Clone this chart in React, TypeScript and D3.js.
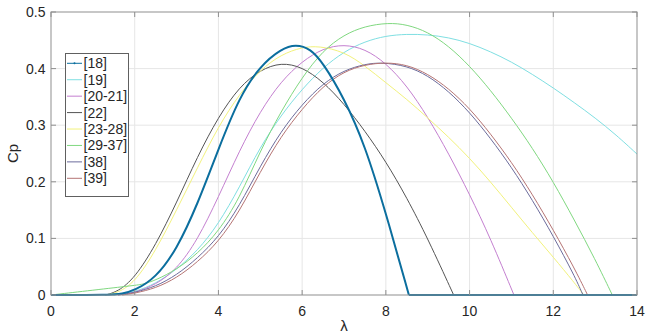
import React from "react";
import * as d3 from "d3";

const width = 650;
const height = 333;
const margin = { top: 12, right: 13, bottom: 38, left: 51 };

// [lambda, Cp] points
const s18 = [[0, 0], [1.4, 0], [1.7, 0.002], [2, 0.008], [2.5, 0.03], [3, 0.08], [3.5, 0.16], [4, 0.258], [4.5, 0.35], [5, 0.405], [5.5, 0.435], [5.85, 0.443], [6.2, 0.435], [6.5, 0.41], [7, 0.348], [7.5, 0.265], [8, 0.145], [8.55, 0]];
const s19 = [[1.5, 0], [2, 0.005], [2.5, 0.02], [3, 0.045], [3.5, 0.078], [4, 0.125], [4.5, 0.19], [5, 0.262], [5.5, 0.318], [6, 0.364], [6.5, 0.402], [7, 0.43], [7.5, 0.448], [8, 0.458], [8.5, 0.461], [9, 0.46], [9.5, 0.455], [10, 0.445], [10.5, 0.43], [11, 0.412], [11.5, 0.39], [12, 0.366], [12.5, 0.34], [13, 0.313], [13.5, 0.283], [14, 0.249]];
const s20 = [[1.6, 0], [2, 0.004], [2.5, 0.018], [3, 0.045], [3.5, 0.097], [4, 0.173], [4.5, 0.255], [5, 0.325], [5.5, 0.378], [6, 0.413], [6.5, 0.436], [7, 0.443], [7.5, 0.435], [8, 0.41], [8.5, 0.37], [9, 0.315], [9.5, 0.25], [10, 0.178], [10.5, 0.1], [11.06, 0]];
const s22 = [[1.3, 0], [1.6, 0.006], [2, 0.03], [2.5, 0.088], [3, 0.163], [3.5, 0.245], [4, 0.315], [4.5, 0.368], [5, 0.398], [5.5, 0.411], [6, 0.403], [6.5, 0.377], [7, 0.338], [7.5, 0.29], [8, 0.236], [8.5, 0.172], [9, 0.1], [9.62, 0]];
const s23 = [[1.3, 0], [1.6, 0.004], [2, 0.022], [2.5, 0.078], [3, 0.15], [3.5, 0.225], [4, 0.298], [4.5, 0.355], [5, 0.398], [5.5, 0.425], [6, 0.438], [6.4, 0.44], [7, 0.43], [7.5, 0.405], [8, 0.375], [8.5, 0.346], [9, 0.313], [9.5, 0.279], [10, 0.242], [10.5, 0.2], [11, 0.155], [11.5, 0.11], [12, 0.067], [12.5, 0.022], [12.73, 0]];
const s29 = [[0, 0], [1, 0.0085], [2, 0.017], [2.2, 0.019], [2.5, 0.026], [3, 0.045], [3.5, 0.073], [4, 0.112], [4.5, 0.17], [5, 0.255], [5.5, 0.325], [6, 0.385], [6.5, 0.432], [7, 0.46], [7.5, 0.475], [8.05, 0.481], [8.5, 0.478], [9, 0.465], [9.5, 0.44], [10, 0.405], [10.5, 0.362], [11, 0.313], [11.5, 0.26], [12, 0.2], [12.5, 0.133], [13, 0.063], [13.41, 0]];
const s38 = [[1.6, 0], [2, 0.004], [2.5, 0.015], [3, 0.035], [3.5, 0.065], [4, 0.102], [4.5, 0.157], [5, 0.228], [5.5, 0.29], [6, 0.337], [6.5, 0.374], [7, 0.397], [7.5, 0.408], [7.9, 0.411], [8.5, 0.405], [9, 0.388], [9.5, 0.36], [10, 0.323], [10.5, 0.277], [11, 0.226], [11.5, 0.168], [12, 0.104], [12.5, 0.035], [12.71, 0]];
const s39 = [[1.7, 0], [2, 0.003], [2.5, 0.012], [3, 0.03], [3.5, 0.058], [4, 0.094], [4.5, 0.147], [5, 0.218], [5.5, 0.281], [6, 0.329], [6.5, 0.369], [7, 0.395], [7.5, 0.407], [8, 0.411], [8.5, 0.407], [9, 0.391], [9.5, 0.365], [10, 0.33], [10.5, 0.285], [11, 0.235], [11.5, 0.178], [12, 0.115], [12.5, 0.048], [12.82, 0]];

const labels = ["[18]", "[19]", "[20-21]", "[22]", "[23-28]", "[29-37]", "[38]", "[39]"];
const colors = ["#0b6e9e", "#7fdfe2", "#c47fd0", "#555555", "#f2f27c", "#80d880", "#6c6c9c", "#b57474"];
const seriesData = [s18, s19, s20, s22, s23, s29, s38, s39];

const xTicks = [0, 2, 4, 6, 8, 10, 12, 14];
const yTicks = [0, 0.1, 0.2, 0.3, 0.4, 0.5];

const font = "Arial, 'Liberation Sans', sans-serif";

export default function App() {
  const x = d3.scaleLinear().domain([0, 14]).range([margin.left, width - margin.right]);
  const y = d3.scaleLinear().domain([0, 0.5]).range([height - margin.bottom, margin.top]);

  // B-spline smooths out reading noise in the points
  const line = d3
    .line<number[]>()
    .x((d) => x(d[0]))
    .y((d) => y(d[1]))
    .curve(d3.curveBasis);

  const x0 = margin.left;
  const x1 = width - margin.right;
  const y0 = height - margin.bottom;
  const y1 = margin.top;
  const axisColor = "#8f8f8f";

  // draw the thin curves first, the thick [18] on top
  const order = [1, 2, 3, 4, 5, 6, 7, 0];

  return (
    <svg width={width} height={height} style={{ position: "absolute", left: 0, top: 0, background: "#fff" }}>
      <rect x={0} y={0} width={width} height={height} fill="#fff" />
      {/* grid */}
      {xTicks.slice(1, -1).map((t) => (
        <line key={"gx" + t} x1={x(t)} x2={x(t)} y1={y1} y2={y0} stroke="#e6e6e6" />
      ))}
      {yTicks.slice(1, -1).map((t) => (
        <line key={"gy" + t} x1={x0} x2={x1} y1={y(t)} y2={y(t)} stroke="#e6e6e6" />
      ))}

      {/* curves */}
      {order.map((i) => {
        const d = seriesData[i];
        const last = d[d.length - 1];
        return (
          <g key={labels[i]}>
            <path d={line(d) || ""} fill="none" stroke={colors[i]} strokeWidth={i === 0 ? 2 : 1} />
            {last[1] === 0 && (
              <line x1={x(last[0])} x2={x(14)} y1={y(0)} y2={y(0)} stroke={colors[i]} strokeWidth={i === 0 ? 2 : 1} />
            )}
          </g>
        );
      })}

      {/* axes box */}
      <rect x={x0} y={y1} width={x1 - x0} height={y0 - y1} fill="none" stroke={axisColor} strokeWidth={1} />
      {xTicks.map((t) => (
        <g key={"xt" + t}>
          <line x1={x(t)} x2={x(t)} y1={y0} y2={y0 - 5} stroke={axisColor} />
          <line x1={x(t)} x2={x(t)} y1={y1} y2={y1 + 5} stroke={axisColor} />
          <text x={x(t)} y={316} textAnchor="middle" fontFamily={font} fontSize={14} fill="#262626">
            {t}
          </text>
        </g>
      ))}
      {yTicks.map((t) => (
        <g key={"yt" + t}>
          <line x1={x0} x2={x0 + 5} y1={y(t)} y2={y(t)} stroke={axisColor} />
          <line x1={x1} x2={x1 - 5} y1={y(t)} y2={y(t)} stroke={axisColor} />
          <text x={45.5} y={y(t) + 5} textAnchor="end" fontFamily={font} fontSize={14} fill="#262626">
            {t === 0 ? "0" : t.toFixed(1)}
          </text>
        </g>
      ))}

      {/* axis labels */}
      <text x={(x0 + x1) / 2} y={331} textAnchor="middle" fontFamily={font} fontSize={15} fill="#262626">
        λ
      </text>
      <text
        transform={`translate(18,${(y0 + y1) / 2}) rotate(-90)`}
        textAnchor="middle"
        fontFamily={font}
        fontSize={15}
        fill="#262626"
      >
        Cp
      </text>

      {/* legend */}
      <rect x={65.5} y={53.5} width={63} height={143} fill="#fff" stroke="#606060" />
      {labels.map((lab, i) => {
        const ly = 63.3 + i * 16.43;
        return (
          <g key={"lg" + lab}>
            <line x1={67} x2={82} y1={ly} y2={ly} stroke={colors[i]} strokeWidth={1} />
            {i === 0 && <circle cx={74.5} cy={ly} r={1} fill={colors[i]} />}
            <text x={83.5} y={ly + 5} fontFamily={font} fontSize={14} fill="#262626">
              {lab}
            </text>
          </g>
        );
      })}
    </svg>
  );
}
